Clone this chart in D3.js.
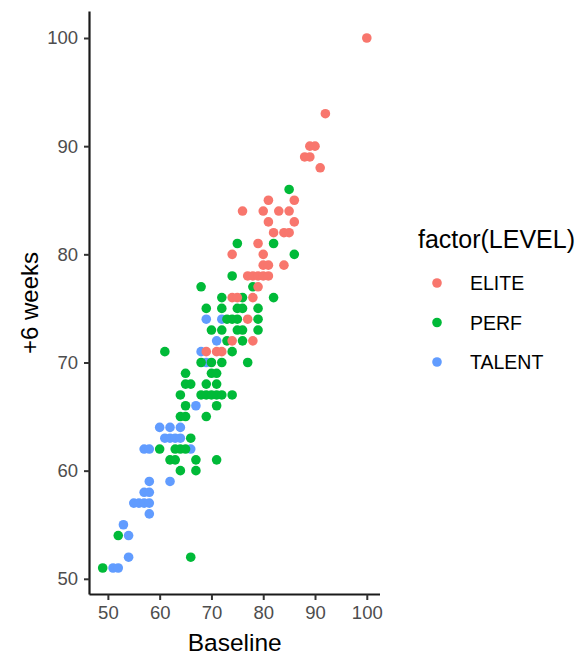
<!DOCTYPE html>
<html>
<head>
<meta charset="utf-8">
<script src="https://cdn.jsdelivr.net/npm/d3@7"></script>
<style>
  html, body { margin: 0; padding: 0; background: #fff; }
  svg { display: block; font-family: "Liberation Sans", Arial, Helvetica, sans-serif; }
</style>
</head>
<body>
<svg id="chart" width="578" height="657"></svg>
<script>
// Baseline vs +6 weeks scores, grouped by LEVEL
const levels = ["ELITE", "PERF", "TALENT"];
const levelColors = ["#F8766D", "#00BA38", "#619CFF"];

const eliteBaseline = [100, 92, 89, 90, 88, 89, 91, 81, 86, 76, 80, 83, 85, 81, 86, 82, 84, 85,
  79, 74, 80, 80, 81, 84, 77, 78, 79, 80, 81, 79, 74, 75, 78, 77, 74, 78, 69, 71, 72];
const eliteWeek6 = [100, 93, 90, 90, 89, 89, 88, 85, 85, 84, 84, 84, 84, 83, 83, 82, 82, 82,
  81, 80, 80, 79, 79, 79, 78, 78, 78, 78, 78, 77, 76, 76, 76, 74, 72, 72, 71, 71, 71];

const perfBaseline = [85, 75, 82, 86, 74, 68, 78, 72, 76, 82, 69, 72, 75, 76, 79, 73, 74, 75, 79,
  70, 72, 75, 76, 79, 73, 76, 61, 74, 68, 70, 72, 77, 65, 70, 71, 65, 66, 69, 71,
  64, 68, 69, 70, 71, 72, 74, 65, 71, 64, 65, 69, 66, 60, 63, 64, 65, 62, 63, 67, 71,
  64, 67, 52, 66, 49];
const perfWeek6 = [86, 81, 81, 80, 78, 77, 77, 76, 76, 76, 75, 75, 75, 75, 75, 74, 74, 74, 74,
  73, 73, 73, 73, 73, 72, 72, 71, 71, 70, 70, 70, 70, 69, 69, 69, 68, 68, 68, 68,
  67, 67, 67, 67, 67, 67, 67, 66, 66, 65, 65, 65, 63, 62, 62, 62, 62, 61, 61, 61, 61,
  60, 60, 54, 52, 51];

const talentBaseline = [67, 68, 69, 72, 69, 71, 60, 62, 64, 61, 62, 63, 64, 57, 58, 66, 58, 62,
  57, 58, 55, 56, 57, 58, 58, 53, 54, 54, 51, 52];
const talentWeek6 = [66, 71, 70, 74, 74, 72, 64, 64, 64, 63, 63, 63, 63, 62, 62, 62, 59, 59,
  58, 58, 57, 57, 57, 57, 56, 55, 54, 52, 51, 51];

const xTicks = [50, 60, 70, 80, 90, 100];
const yTicks = [50, 60, 70, 80, 90, 100];

const groups = [
  { level: "TALENT", x: talentBaseline, y: talentWeek6 },
  { level: "PERF", x: perfBaseline, y: perfWeek6 },
  { level: "ELITE", x: eliteBaseline, y: eliteWeek6 }
];

const points = groups.flatMap(g => g.x.map((v, i) => ({ level: g.level, base: v, wk6: g.y[i] })));

const svg = d3.select("#chart");
const panel = { left: 89.5, right: 380, top: 11.5, bottom: 594.5 };

// Continuous scales with 5% padding either side of the data range
const allX = points.map(d => d.base), allY = points.map(d => d.wk6);
const [x0, x1] = d3.extent(allX), [y0, y1] = d3.extent(allY);
const px = (x1 - x0) * 0.05, py = (y1 - y0) * 0.05;

const x = d3.scaleLinear().domain([x0 - px, x1 + px]).range([panel.left, panel.right]);
const y = d3.scaleLinear().domain([y0 - py, y1 + py]).range([panel.bottom, panel.top]);
const color = d3.scaleOrdinal().domain(levels).range(levelColors);

// Points
svg.append("g")
  .selectAll("circle")
  .data(points)
  .join("circle")
  .attr("cx", d => x(d.base))
  .attr("cy", d => y(d.wk6))
  .attr("r", 4.8)
  .attr("fill", d => color(d.level));

// Axes
const xAxis = svg.append("g")
  .attr("transform", `translate(0,${panel.bottom})`)
  .call(d3.axisBottom(x).tickValues(xTicks).tickSize(5.5).tickPadding(6).tickSizeOuter(0));
const yAxis = svg.append("g")
  .attr("transform", `translate(${panel.left},0)`)
  .call(d3.axisLeft(y).tickValues(yTicks).tickSize(5.5).tickPadding(6).tickSizeOuter(0));

[xAxis, yAxis].forEach(a => {
  a.select(".domain").attr("stroke", "#1a1a1a").attr("stroke-width", 2.2);
  a.selectAll(".tick line").attr("stroke", "#333").attr("stroke-width", 2);
  a.selectAll(".tick text")
    .attr("fill", "#4D4D4D")
    .style("font-size", "18.5px")
    .style("font-family", "'Liberation Sans', Arial, sans-serif");
});
xAxis.select(".domain").attr("d", `M${panel.left},0H${panel.right}`);
yAxis.select(".domain").attr("d", `M0,${panel.top}V${panel.bottom}`);

// Axis titles
svg.append("text")
  .attr("x", (panel.left + panel.right) / 2)
  .attr("y", 651)
  .attr("text-anchor", "middle")
  .attr("fill", "#000")
  .style("font-size", "24.5px")
  .text("Baseline");

svg.append("text")
  .attr("transform", `translate(38,${(panel.top + panel.bottom) / 2}) rotate(-90)`)
  .attr("text-anchor", "middle")
  .attr("fill", "#000")
  .style("font-size", "24px")
  .text("+6 weeks");

// Legend
const legend = svg.append("g").attr("transform", "translate(418,0)");
legend.append("text")
  .attr("x", 0).attr("y", 248)
  .attr("fill", "#000")
  .style("font-size", "25px")
  .text("factor(LEVEL)");

const items = legend.selectAll("g.item")
  .data(levels)
  .join("g")
  .attr("class", "item")
  .attr("transform", (d, i) => `translate(0,${283 + i * 39.5})`);
items.append("circle").attr("cx", 19).attr("cy", 0).attr("r", 4.8).attr("fill", d => color(d));
items.append("text")
  .attr("x", 52).attr("y", 7)
  .attr("fill", "#000")
  .style("font-size", "19.5px")
  .text(d => d);
</script>
</body>
</html>
